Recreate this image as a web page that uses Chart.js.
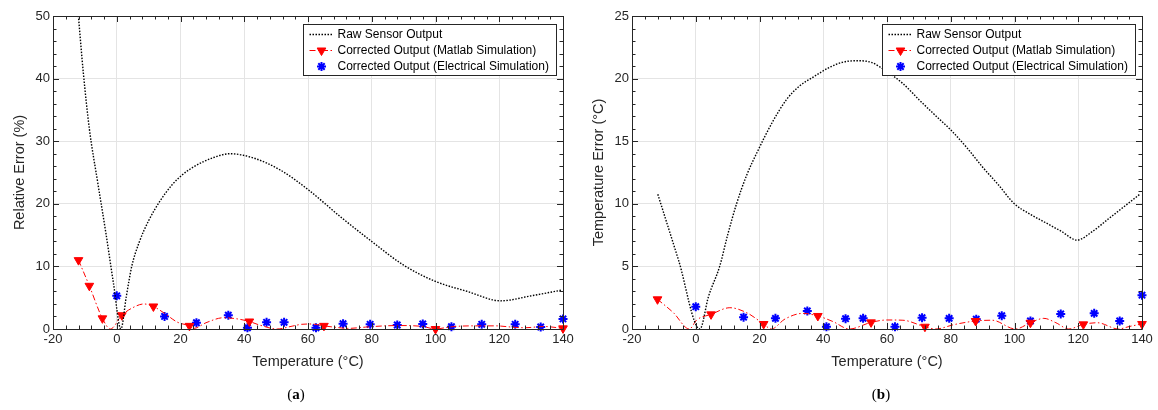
<!DOCTYPE html>
<html>
<head>
<meta charset="utf-8">
<script src="https://cdn.jsdelivr.net/npm/chart.js@4.4.1/dist/chart.umd.min.js"></script>
<style>
  body { margin: 0; background: #fff; }
  #wrap { position: relative; width: 1158px; height: 410px; }
  .panel { position: absolute; top: 0; width: 579px; height: 410px; }
  .tag { position: absolute; top: 386px; width: 40px; margin-left: -20px; text-align: center;
         font: 15px "Liberation Serif", serif; color: #000; }
</style>
</head>
<body>
<div id="wrap">
  <div class="panel" style="left:0"><canvas id="chartA" width="579" height="410"></canvas></div>
  <div class="panel" style="left:579px"><canvas id="chartB" width="579" height="410"></canvas></div>
  <div class="tag" style="left:296px">(<b>a</b>)</div>
  <div class="tag" style="left:881px">(<b>b</b>)</div>
</div>
<script>
"use strict";

// (a) relative error, %
const rawTempA = [-12.2, -10.5, -8.6, -6, -3.4, -1, 1.3, 3, 4.7, 7, 10, 13.4, 17.3, 20.5, 24.1,
                  30.4, 35.6, 43, 51.3, 60.2, 70, 80.2, 90, 100, 110, 120.5, 130, 139.5];
const rawErrA  = [51, 41, 32, 23.5, 15.3, 7.2, 0, 5.2, 10, 13.8, 17.3, 20.3, 23.0, 24.6, 25.9,
                  27.4, 28, 27.3, 25.4, 22.2, 18.0, 13.9, 10.2, 7.6, 6.0, 4.5, 5.3, 6.2];
const matlabTempA = [-12, -8.6, -4.5, -2, 1.6, 5, 8.5, 11.5, 15, 19, 22.8, 24.2, 28, 33.5, 38, 41.6, 45, 50.3,
                     55, 58, 61, 65, 69, 72.5, 78, 84, 89, 96, 100, 103, 106, 112, 119, 124, 128, 134, 140];
const matlabErrA  = [11, 6.9, 1.7, 0, 2.2, 3.4, 4.0, 3.6, 2.5, 1.1, 0.5, 0.1, 1.0, 1.8, 1.6, 1.2, 0.6, 0,
                     0.45, 0.75, 0.8, 0.5, 0.25, 0.1, 0.3, 0.5, 0.55, 0.4, 0, 0.2, 0.4, 0.5, 0.5, 0.3, 0.2, 0.4, 0.1];
const matlabMarkA = [1, 1, 1, 0, 1, 0, 0, 1, 0, 0, 1, 0, 0, 0, 0, 1, 0, 0,
                     0, 0, 0, 1, 0, 0, 0, 0, 0, 0, 1, 0, 0, 0, 0, 0, 0, 0, 1];

// electrical simulation points (same temperatures in both panels)
const elecTemp = [0, 15, 25, 35, 41, 47, 52.5, 62.5, 71, 79.5, 88, 96, 105, 114.5, 125, 133, 140];
const elecErrA = [5.3, 2.0, 1.0, 2.2, 0.2, 1.07, 1.07, 0.2, 0.85, 0.75, 0.64, 0.8, 0.37, 0.75, 0.75, 0.32, 1.6];

// (b) temperature error, °C
const rawTempB = [-11.9, -5.4, 1.3, 4, 7.5, 10, 12.8, 16, 19.6, 24, 28.4, 32.5, 36.7, 42, 46, 50.3, 55, 59.7,
                  65, 70.1, 75, 80, 85, 89.9, 95, 99.8, 104.7, 109.7, 114.7, 119.6, 124.5, 129.5, 134, 139.5];
const rawErrB  = [10.76, 5.5, 0, 2.6, 5.0, 7.5, 10.0, 12.3, 14.3, 16.5, 18.3, 19.4, 20.1, 20.9, 21.3, 21.43, 21.3, 20.6,
                  19.6, 18.3, 17.1, 15.9, 14.5, 12.96, 11.5, 10.04, 9.2, 8.5, 7.8, 7.1, 7.8, 8.8, 9.7, 10.8];
const matlabTempB = [-12, -7, -2, 0.3, 4.8, 10.7, 16, 21.3, 23.7, 28, 33.6, 38.3, 43, 48.2, 55, 60, 65, 71.9,
                     75.3, 81, 87.8, 93, 100.3, 105, 109.2, 113, 117, 121.6, 126, 132.6, 136, 140];
const matlabErrB  = [2.37, 1.3, 0, 0.72, 1.17, 1.7, 1.3, 0.4, 0, 0.8, 1.25, 1.04, 0.6, 0, 0.53, 0.72, 0.7, 0.18,
                     0, 0.35, 0.64, 0.7, 0, 0.5, 0.85, 0.5, 0, 0.37, 0.5, 0, 0.2, 0.4];
const matlabMarkB = [1, 0, 0, 0, 1, 0, 0, 1, 0, 0, 0, 1, 0, 0, 1, 0, 0, 1,
                     0, 0, 1, 0, 0, 1, 0, 0, 0, 1, 0, 0, 0, 1];
const elecErrB = [1.78, 0.94, 0.85, 1.44, 0.18, 0.82, 0.85, 0.18, 0.9, 0.85, 0.78, 1.06, 0.64, 1.2, 1.25, 0.64, 2.7];

const legendLabels = ["Raw Sensor Output", "Corrected Output (Matlab Simulation)", "Corrected Output (Electrical Simulation)"];

const AXIS = "#262626";
const FONT = "Liberation Sans";

function pts(xs, ys) {
    return xs.map((x, i) => ({x: x, y: ys[i]}));
}

// matlab style box: frame plus inward major/minor ticks on all four sides
const matlabBox = {
    id: "matlabBox",
    afterDatasetsDraw(chart, args, opts) {
        const {ctx, chartArea: a, scales: {x, y}} = chart;
        ctx.save();
        ctx.strokeStyle = AXIS;
        ctx.lineWidth = 1;
        ctx.beginPath();
        const steps = Math.round((x.max - x.min) / opts.xMinor);
        for (let i = 0; i <= steps; i++) {
            const v = x.min + i * opts.xMinor;
            const px = Math.round(x.getPixelForValue(v)) + 0.5;
            const len = Math.abs(v / opts.xMajor - Math.round(v / opts.xMajor)) < 1e-6 ? 6 : 3.5;
            ctx.moveTo(px, a.bottom); ctx.lineTo(px, a.bottom - len);
            ctx.moveTo(px, a.top); ctx.lineTo(px, a.top + len);
        }
        const ysteps = Math.round((y.max - y.min) / opts.yMinor);
        for (let i = 0; i <= ysteps; i++) {
            const v = y.min + i * opts.yMinor;
            const py = Math.round(y.getPixelForValue(v)) + 0.5;
            const len = Math.abs(v / opts.yMajor - Math.round(v / opts.yMajor)) < 1e-6 ? 6 : 3.5;
            ctx.moveTo(a.left, py); ctx.lineTo(a.left + len, py);
            ctx.moveTo(a.right, py); ctx.lineTo(a.right - len, py);
        }
        ctx.rect(Math.round(a.left) + 0.5, Math.round(a.top) + 0.5,
                 Math.round(a.right - a.left), Math.round(a.bottom - a.top));
        ctx.stroke();
        ctx.restore();
    }
};

// boxed legend in the upper right corner of the axes
const boxLegend = {
    id: "boxLegend",
    afterDraw(chart, args, opts) {
        const {ctx, chartArea: a} = chart;
        const items = chart.data.datasets.filter(d => d.label);
        const w = opts.width, rowH = 16;
        const x0 = Math.round(a.right - opts.right - w) + 0.5;
        const y0 = Math.round(a.top + opts.top) + 0.5;
        const h = items.length * rowH + 3;
        ctx.save();
        ctx.fillStyle = "#fff";
        ctx.fillRect(x0, y0, w, h);
        ctx.strokeStyle = AXIS;
        ctx.lineWidth = 1;
        ctx.setLineDash([]);
        ctx.strokeRect(x0, y0, w, h);
        items.forEach((d, i) => {
            const cy = y0 + 10 + i * rowH;
            if (d.showLine) {
                ctx.beginPath();
                ctx.setLineDash(d.borderDash || []);
                ctx.strokeStyle = d.borderColor;
                ctx.lineWidth = d.borderWidth;
                ctx.moveTo(x0 + 6, cy);
                ctx.lineTo(x0 + 30, cy);
                ctx.stroke();
                ctx.setLineDash([]);
            }
            if (d.legendPoint) {
                ctx.fillStyle = d.pointBackgroundColor;
                ctx.strokeStyle = d.pointBorderColor;
                ctx.lineWidth = d.pointBorderWidth;
                Chart.helpers.drawPoint(ctx, d.legendPoint, x0 + 18, cy);
            }
            ctx.fillStyle = "#000";
            ctx.font = "12px '" + FONT + "'";
            ctx.textBaseline = "middle";
            ctx.textAlign = "left";
            ctx.fillText(d.label, x0 + 34, cy);
        });
        ctx.restore();
    }
};

function makeChart(id, yTitle, yMax, yStep, yMinor, raw, matlab, marks, elec) {
    return new Chart(document.getElementById(id), {
        type: "scatter",
        data: {
            datasets: [
                {
                    label: legendLabels[0],
                    data: raw,
                    showLine: true,
                    borderColor: "#000",
                    borderWidth: 1.4,
                    borderDash: [1.5, 1.5],
                    pointRadius: 0,
                    cubicInterpolationMode: "monotone"
                },
                {
                    label: legendLabels[1],
                    data: matlab,
                    showLine: true,
                    borderColor: "#ff0000",
                    borderWidth: 1,
                    borderDash: [6, 2.5, 1.5, 2.5],
                    cubicInterpolationMode: "monotone",
                    pointStyle: "triangle",
                    rotation: 180,
                    pointRadius: marks.map(m => m ? 5 : 0),
                    pointBackgroundColor: "#ff0000",
                    pointBorderColor: "#ff0000",
                    pointBorderWidth: 1,
                    legendPoint: {pointStyle: "triangle", rotation: 180, radius: 5, borderWidth: 1},
                    clip: false
                },
                {
                    label: legendLabels[2],
                    data: elec,
                    showLine: false,
                    pointStyle: "star",
                    pointRadius: 4.5,
                    pointBorderWidth: 2,
                    pointBorderColor: "#0000ff",
                    pointBackgroundColor: "#0000ff",
                    legendPoint: {pointStyle: "star", radius: 4.5, borderWidth: 2},
                    clip: false
                }
            ]
        },
        options: {
            responsive: false,
            animation: false,
            devicePixelRatio: 1,
            layout: {padding: {left: 7, right: 16, top: 16, bottom: 36}},
            plugins: {
                legend: {display: false},
                tooltip: {enabled: false},
                matlabBox: {xMajor: 20, xMinor: 4, yMajor: yStep, yMinor: yMinor},
                boxLegend: {width: 253, right: 7, top: 8}
            },
            scales: {
                x: {
                    type: "linear",
                    min: -20,
                    max: 140,
                    ticks: {stepSize: 20, color: AXIS, padding: 3, font: {family: FONT, size: 13}},
                    grid: {color: "#e4e4e4", drawTicks: false},
                    border: {display: false},
                    title: {display: true, text: "Temperature (°C)", color: AXIS,
                            padding: {top: 0, bottom: 3}, font: {family: FONT, size: 14.5}},
                    afterFit: s => { s.height = 45; }
                },
                y: {
                    type: "linear",
                    min: 0,
                    max: yMax,
                    ticks: {stepSize: yStep, color: AXIS, padding: 3, font: {family: FONT, size: 13}},
                    grid: {color: "#e4e4e4", drawTicks: false},
                    border: {display: false},
                    title: {display: true, text: yTitle, color: AXIS,
                            padding: {top: 4, bottom: 0}, font: {family: FONT, size: 14.5}},
                    afterFit: s => { s.width = 46; }
                }
            }
        },
        plugins: [matlabBox, boxLegend]
    });
}

makeChart("chartA", "Relative Error (%)", 50, 10, 2,
          pts(rawTempA, rawErrA), pts(matlabTempA, matlabErrA), matlabMarkA, pts(elecTemp, elecErrA));
makeChart("chartB", "Temperature Error (°C)", 25, 5, 1,
          pts(rawTempB, rawErrB), pts(matlabTempB, matlabErrB), matlabMarkB, pts(elecTemp, elecErrB));
</script>
</body>
</html>
